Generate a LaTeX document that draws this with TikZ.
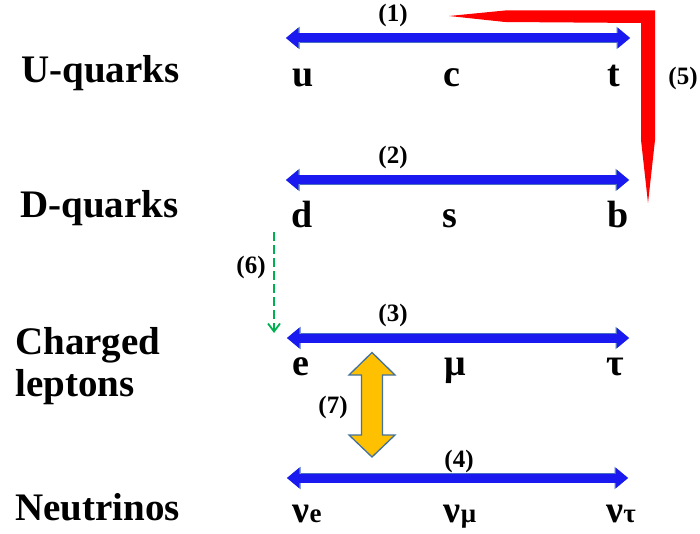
\documentclass[tikz,border=0pt]{standalone}
\usepackage{fontspec}
\setmainfont{LiberationSerif}[Extension=.ttf, UprightFont=*-Regular, BoldFont=*-Bold]
\usetikzlibrary{arrows.meta}
\definecolor{arrowblue}{HTML}{1A1AF0}
\definecolor{arrowedge}{HTML}{4A6FC0}
\definecolor{redbar}{HTML}{FF0000}
\definecolor{goldfill}{HTML}{FFC000}
\definecolor{goldedge}{HTML}{41719C}
\definecolor{dashgreen}{HTML}{00B050}
\tikzset{
  rowlabel/.style={font=\bfseries\fontsize{39}{39}\selectfont, anchor=base west, inner sep=0pt},
  particle/.style={font=\bfseries\fontsize{38}{38}\selectfont, anchor=base, inner sep=0pt},
  numlabel/.style={font=\bfseries\fontsize{25}{27}\selectfont, inner sep=0pt},
  mixarrow/.style={arrowblue, line width=9pt,
    {Triangle[width=20pt,length=12pt,line width=0pt]}-{Triangle[width=20pt,length=12pt,line width=0pt]},
    preaction={draw=arrowedge, line width=10.5pt,
      {Triangle[width=22.5pt,length=13.5pt,line width=0pt]}-{Triangle[width=22.5pt,length=13.5pt,line width=0pt]}}},
  redbend/.style={fill=redbar, draw=none},
  goldarrow/.style={fill=goldfill, draw=goldedge, line width=1.3pt, line join=miter},
  decayarrow/.style={dashgreen, line width=1.8pt, dash pattern=on 9pt off 4pt,
    -{Straight Barb[length=8pt,width=12pt,line width=1.8pt]}},
}
\newcommand{\subidx}[1]{{\fontsize{27}{27}\selectfont #1}}
\begin{document}
\begin{tikzpicture}[x=1pt,y=-1pt]
  \useasboundingbox (0,0) rectangle (700,534);

  % row labels
  \node[rowlabel] (uq) at (21,83) {U-quarks};
  \node[rowlabel] (dq) at (20,218) {D-quarks};
  \node[rowlabel] (cl1) at (15,354) {Charged};
  \node[rowlabel] (cl2) at (15,396) {leptons};
  \node[rowlabel] (nu) at (15,520) {Neutrinos};

  % particles
  \node[particle] (pu) at (303,87) {u};
  \node[particle] (pc) at (452,87) {c};
  \node[particle] (pt) at (614,87) {t};
  \node[particle] (pd) at (302,228) {d};
  \node[particle] (ps) at (450,228) {s};
  \node[particle] (pb) at (618,228) {b};
  \node[particle] (pe) at (301,375) {e};
  \node[particle] (pmu) at (455,375) {μ};
  \node[particle] (ptau) at (615,375) {τ};
  \node[particle] (pne) at (307,522) {ν\subidx{e}};
  \node[particle] (pnm) at (460,522) {ν\subidx{μ}};
  \node[particle] (pnt) at (621,522) {ν\subidx{τ}};

  % mixing arrows
  \coordinate (a1l) at (286,38);  \coordinate (a1r) at (630,38);
  \coordinate (a2l) at (286,180); \coordinate (a2r) at (629,180);
  \coordinate (a3l) at (287,338); \coordinate (a3r) at (629,338);
  \coordinate (a4l) at (287,478); \coordinate (a4r) at (628,478);
  \draw[mixarrow] (a1l) -- (a1r);
  \draw[mixarrow] (a2l) -- (a2r);
  \draw[mixarrow] (a3l) -- (a3r);
  \draw[mixarrow] (a4l) -- (a4r);

  \node[numlabel] (n1) at (393,15) {(1)};
  \node[numlabel] (n2) at (393,157) {(2)};
  \node[numlabel] (n3) at (393,315) {(3)};
  \node[numlabel] (n4) at (459,461) {(4)};
  \node[numlabel] (n5) at (683,78) {(5)};
  \node[numlabel] (n6) at (251,267) {(6)};
  \node[numlabel] (n7) at (333,407) {(7)};

  % red bent wedge
  \path[redbend] (449,16) -- (505,10.5) -- (655,10.5) -- (655,140) -- (648,203)
     -- (641,140) -- (641,23) -- (505,22) -- cycle;

  % green dashed decay arrow
  \coordinate (gs) at (274,232);
  \coordinate (ge) at (274,333);
  \draw[decayarrow] (gs) -- (ge);

  % gold double arrow
  \draw[goldarrow] (372,352.5) -- (395,375) -- (382.5,375) -- (382.5,435) -- (395,435)
     -- (372,457) -- (349,435) -- (361.5,435) -- (361.5,375) -- (349,375) -- cycle;
\end{tikzpicture}
\end{document}
